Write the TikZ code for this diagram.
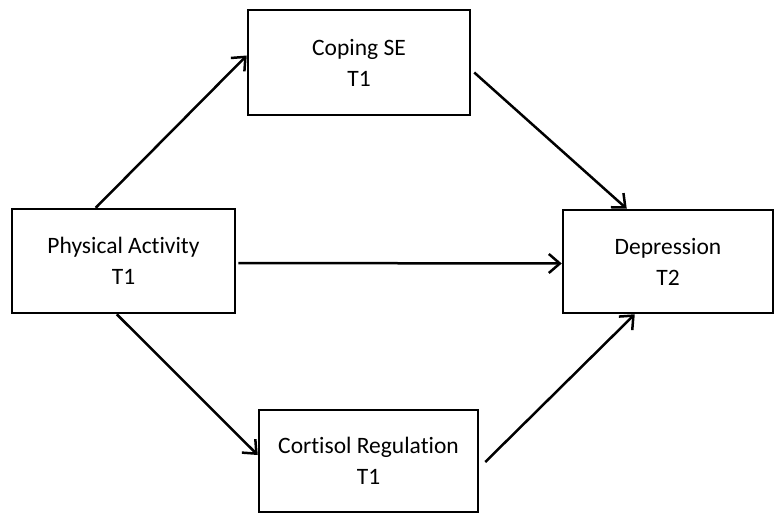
\documentclass[tikz,border=0pt]{standalone}
\usepackage{fontspec}
\setmainfont{Carlito}[Ligatures=NoCommon]
\usetikzlibrary{arrows.meta,positioning,calc}
\tikzset{
  varbox/.style = { draw, line width=2.5pt, rectangle, align=center, inner sep=0pt,
    font=\fontsize{23.5}{31}\selectfont },
  path/.style = { line width=2.5pt, -{Straight Barb[length=11pt,width=19pt,line width=2.5pt]} }
}
\begin{document}
\begin{tikzpicture}[x=1pt,y=-1pt]
  \useasboundingbox (0,0) rectangle (776,514);
  % variables
  \node[varbox, minimum width=223pt, minimum height=104pt] (pa) at (123.5,261) {Physical Activity\\T1};
  \node[varbox, minimum width=222pt, minimum height=105pt] (cse) at (359,62.5) {Coping SE\\T1};
  \node[varbox, minimum width=210pt, minimum height=103pt] (dep) at (668,261.5) {Depression\\T2};
  \node[varbox, minimum width=219pt, minimum height=102pt] (cort) at (368.5,461) {Cortisol Regulation\\T1};

  % paths
  \draw[path] ([xshift=85pt]pa.north west) -- ([yshift=7pt]cse.west);
  \draw[path] ([xshift=3pt,yshift=-10pt]cse.east) -- ([xshift=65pt]dep.north west);
  \draw[path] ([xshift=2pt,yshift=-2pt]pa.east) -- ([yshift=-2pt]dep.west);
  \draw[path] ([xshift=106pt]pa.south west) -- ([yshift=6pt]cort.west);
  \draw[path] ([xshift=6pt,yshift=-1pt]cort.east) -- ([xshift=73pt]dep.south west);
\end{tikzpicture}
\end{document}
